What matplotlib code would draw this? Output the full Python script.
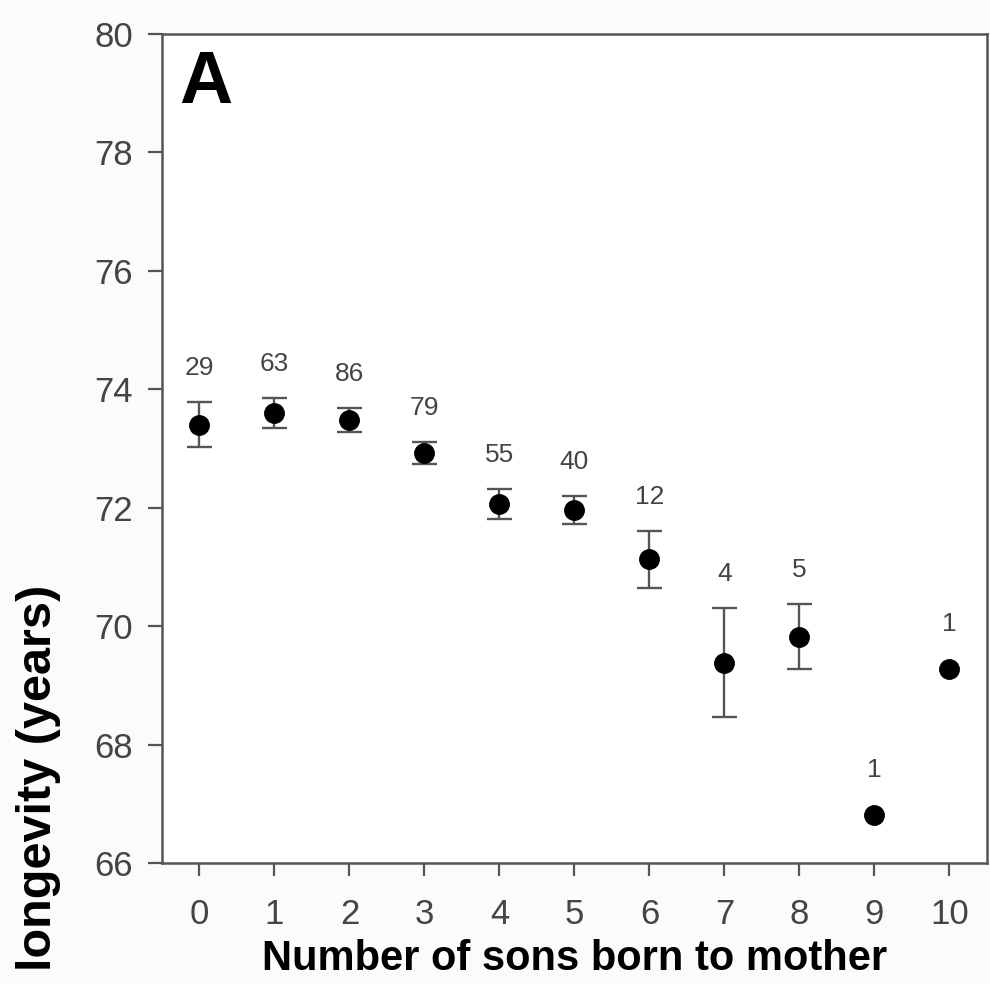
import numpy as np
import matplotlib
matplotlib.use("Agg")
import matplotlib.pyplot as plt

# Mean longevity of mothers by number of sons, with standard errors and sample sizes
sons = [0, 1, 2, 3, 4, 5, 6, 7, 8, 9, 10]
longevity = [73.40, 73.60, 73.48, 72.92, 72.06, 71.96, 71.13, 69.38, 69.82, 66.81, 69.27]
std_err = [0.38, 0.25, 0.20, 0.19, 0.25, 0.23, 0.48, 0.92, 0.55, 0.0, 0.0]
n_mothers = [29, 63, 86, 79, 55, 40, 12, 4, 5, 1, 1]

plt.rcParams["font.family"] = ["Liberation Sans", "DejaVu Sans"]

fig = plt.figure(figsize=(9.9, 9.84), dpi=100)
fig.patch.set_facecolor("#fbfbfb")
ax = fig.add_axes([0.1636, 0.123, 0.8333, 0.8425])

# points with error bars (single-mother groups have no bar)
for x, y, e in zip(sons, longevity, std_err):
    if e > 0:
        ax.errorbar(x, y, yerr=e, fmt="none", ecolor="#555555", elinewidth=1.7,
                    capsize=9, capthick=1.7, zorder=2)
ax.plot(sons, longevity, "o", color="black", markersize=14, zorder=3)

# sample size above each group
for x, y, e, n in zip(sons, longevity, std_err, n_mothers):
    extra = 16 if e > 0 else 24
    ax.annotate(str(n), xy=(x, y + e), xytext=(0, extra), textcoords="offset points",
                ha="center", va="bottom", fontsize=19, color="#444444")

ax.set_xlim(-0.5, 10.5)
ax.set_ylim(66, 80)
ax.set_xticks(sons)
ax.set_yticks(np.arange(66, 81, 2))

for side in ["left", "bottom", "top", "right"]:
    ax.spines[side].set_color("#555555")
    ax.spines[side].set_linewidth(1.8)

ax.tick_params(axis="y", direction="out", length=10, width=1.6, color="#555555",
               labelsize=25, labelcolor="#444444", pad=11)
ax.tick_params(axis="x", direction="out", length=9, width=1.6, color="#555555",
               labelsize=25, labelcolor="#444444", pad=16)

ax.set_xlabel("Number of sons born to mother", fontsize=30, fontweight="bold", labelpad=6)
ax.set_ylabel("longevity (years)", fontsize=35, fontweight="bold", ha="center", va="center")
ax.yaxis.set_label_coords(-0.150, 0.1025)

ax.text(0.021, 0.982, "A", transform=ax.transAxes, fontsize=53, fontweight="bold",
        ha="left", va="top")

fig.savefig("out.png", dpi=100, facecolor=fig.get_facecolor())
